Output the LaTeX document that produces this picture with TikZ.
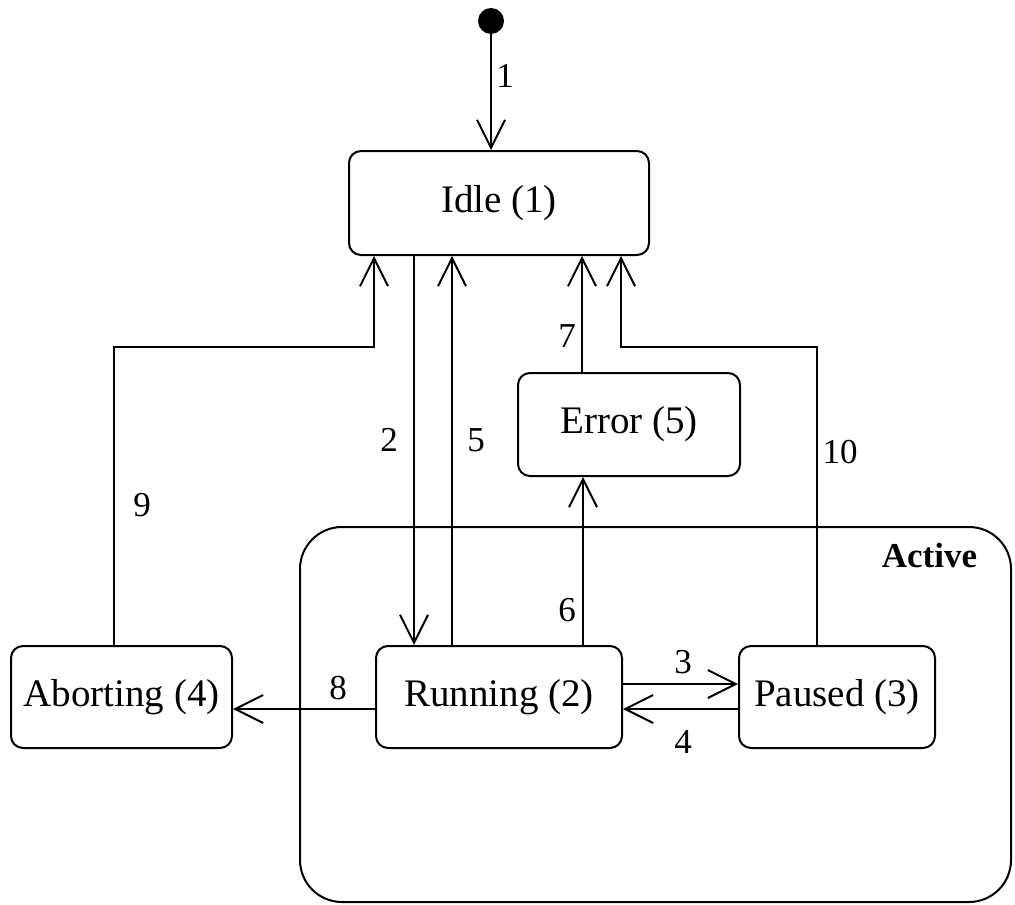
\documentclass[tikz,border=0pt]{standalone}
\usepackage{fontspec}
\setmainfont{Liberation Serif}
\usetikzlibrary{arrows.meta}
\begin{document}
\begin{tikzpicture}[x=1pt,y=-1pt,
  state/.style={draw,line width=2pt,rounded corners=12pt,inner sep=0pt,font=\fontsize{39}{43}\selectfont},
  lbl/.style={inner sep=0pt,font=\fontsize{35}{39}\selectfont},
  arr/.style={line width=2pt,-{Straight Barb[length=28pt,width=28pt,line width=2pt]}},
  conn/.style={line width=2pt}]
\useasboundingbox (0,0) rectangle (1015,905);
\node[draw,line width=2pt,rounded corners=42pt,minimum width=711pt,minimum height=375pt,inner sep=0pt] (active) at (655.5,714.5) {};
\node[inner sep=0pt,font=\fontsize{35}{39}\selectfont\bfseries] (activelbl) at (929.5,556) {Active};
\node[fill=black,circle,minimum size=26pt,inner sep=0pt] (init) at (491,21) {};
\node[state,minimum width=300pt,minimum height=104pt] (idle) at (499,203) {Idle (1)};
\node[state,minimum width=222pt,minimum height=103pt] (error) at (629,424.5) {Error (5)};
\node[state,minimum width=246pt,minimum height=102pt] (running) at (499,697) {Running (2)};
\node[state,minimum width=196pt,minimum height=102pt] (paused) at (837,697) {Paused (3)};
\node[state,minimum width=221pt,minimum height=102pt] (aborting) at (121.5,697) {Aborting (4)};
% connectors
\draw[arr] (init) -- (init |- idle.north);
\draw[arr] ([xshift=-85pt]idle.south) -- ([xshift=-85pt]running.north);
\draw[arr] ([xshift=-47pt]running.north) -- ([xshift=-47pt]idle.south);
\draw[arr] ([xshift=84pt]running.north) -- ([xshift=-46pt]error.south);
\draw[arr] ([xshift=-47pt]error.north) -- ([xshift=83pt]idle.south);
\draw[arr] ([xshift=-7.5pt]aborting.north) |- ([xshift=-125pt,yshift=-91pt]idle.south) -- ([xshift=-125pt]idle.south);
\draw[arr] ([xshift=-20pt]paused.north) |- ([xshift=122pt,yshift=-91pt]idle.south) -- ([xshift=122pt]idle.south);
\draw[arr] ([yshift=13pt]running.east) -- ([yshift=13pt]paused.west);
\draw[arr] ([yshift=-12pt]paused.west) -- ([yshift=-12pt]running.east);
\draw[arr] ([yshift=-12pt]running.west) -- ([yshift=-12pt]aborting.east);
% labels
\node[lbl] (l1) at (505,76) {1};
\node[lbl] (l2) at (389,440) {2};
\node[lbl] (l5) at (476,440) {5};
\node[lbl] (l7) at (567,336) {7};
\node[lbl] (l9) at (142,505) {9};
\node[lbl] (l10) at (840,452) {10};
\node[lbl] (l6) at (567,610) {6};
\node[lbl] (l3) at (683,662) {3};
\node[lbl] (l4) at (683,742) {4};
\node[lbl] (l8) at (338,688) {8};
\end{tikzpicture}
\end{document}
